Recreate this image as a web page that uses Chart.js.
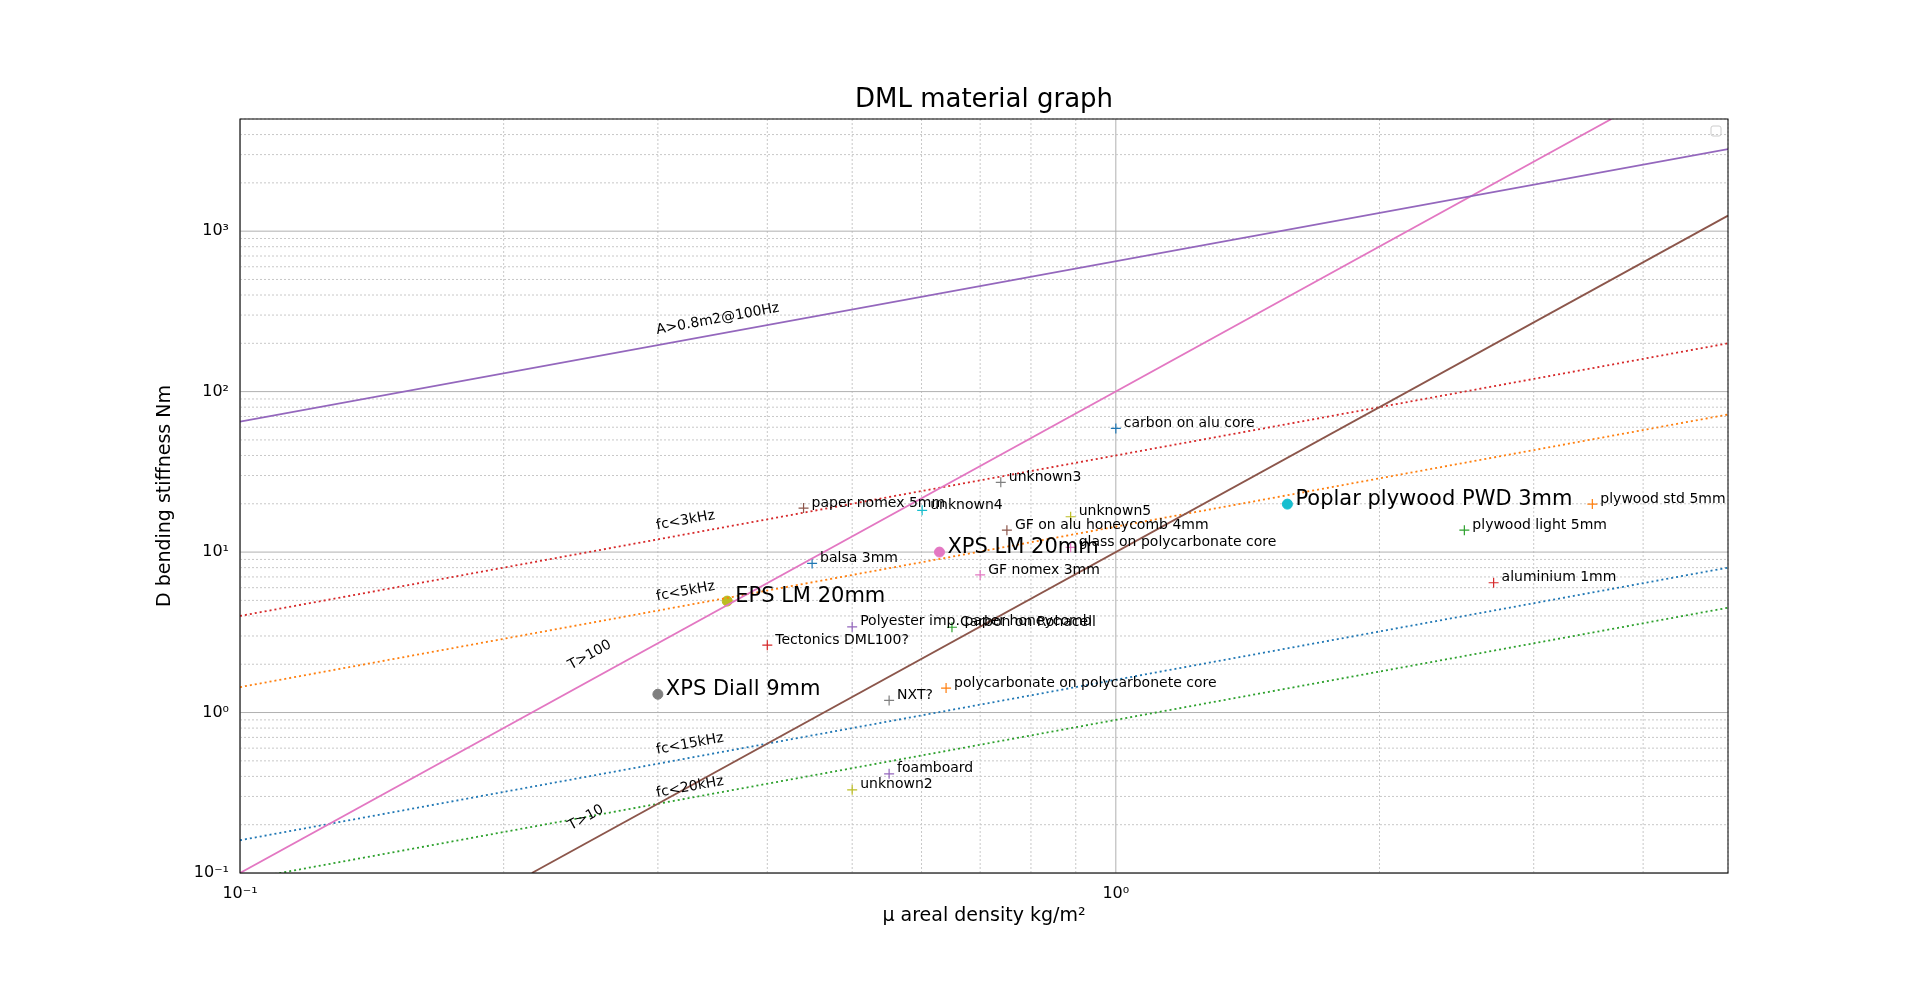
<!DOCTYPE html>
<html>
<head>
<meta charset="utf-8">
<script src="https://cdn.jsdelivr.net/npm/chart.js@4/dist/chart.umd.min.js"></script>
<style>
  html, body { margin: 0; padding: 0; background: #fff; }
  #wrap { width: 1920px; height: 981px; }
</style>
</head>
<body>
<div id="wrap"><canvas id="c"></canvas></div>
<script>
// materials
const names = ["carbon on alu core","unknown3","paper nomex 5mm","unknown4","unknown5","GF on alu honeycomb 4mm",
  "glass on polycarbonate core","Poplar plywood PWD 3mm","plywood std 5mm","plywood light 5mm","aluminium 1mm",
  "XPS LM 20mm","balsa 3mm","GF nomex 3mm","EPS LM 20mm","Polyester imp. paper honeycomb","Carbon on Rohacell",
  "Tectonics DML100?","XPS Diall 9mm","NXT?","polycarbonate on polycarbonete core","foamboard","unknown2"];
const mu = [1.0,0.739,0.44,0.601,0.888,0.751,0.888,1.57,3.5,2.5,2.7,0.629,0.45,0.70,0.36,0.5,0.65,0.40,0.30,0.551,0.64,0.551,0.5];
const stiff = [59,27.2,18.8,18.2,16.6,13.7,10.7,19.9,19.9,13.7,6.44,10,8.5,7.2,4.95,3.42,3.4,2.63,1.30,1.19,1.42,0.415,0.33];
const pointColors = ["#1f77b4","#7f7f7f","#8c564b","#17becf","#bcbd22","#8c564b","#e377c2","#17becf","#ff7f0e","#2ca02c","#d62728",
  "#e377c2","#1f77b4","#e377c2","#bcbd22","#9467bd","#2ca02c","#d62728","#7f7f7f","#7f7f7f","#ff7f0e","#9467bd","#bcbd22"];
const big = [0,0,0,0,0,0,0,1,0,0,0,1,0,0,1,0,0,0,1,0,0,0,0];

// guide lines: two endpoints each (mu, D)
const guideNames = ["A>0.8m2@100Hz","T>100","T>10","fc<3kHz","fc<5kHz","fc<15kHz","fc<20kHz"];
const guideX0 = [0.1,0.1,0.2154,0.1,0.1,0.1,0.1];
const guideY0 = [65,0.1,0.1,4,1.44,0.16,0.09];
const guideX1 = [5,3.68,5,5,5,5,5];
const guideY1 = [3250,5000,1250,200,72,8,4.5];
const guideColors = ["#9467bd","#e377c2","#8c564b","#d62728","#ff7f0e","#1f77b4","#2ca02c"];
const guideDotted = [0,0,0,1,1,1,1];
const guideLabelAt = [[0.3,215],[0.24,1.75],[0.24,0.175],[0.3,13],[0.3,4.7],[0.3,0.52],[0.3,0.28]];

const superscript = {"-":"⁻","0":"⁰","1":"¹","2":"²","3":"³","4":"⁴"};
function decadeLabel(v) {
  const e = Math.log10(v);
  if (Math.abs(e - Math.round(e)) > 1e-6) return "";
  return "10" + String(Math.round(e)).split("").map(ch => superscript[ch]).join("");
}

const datasets = [];
guideNames.forEach((n, i) => {
  datasets.push({
    type: "line", label: n,
    data: [{x: guideX0[i], y: guideY0[i]}, {x: guideX1[i], y: guideY1[i]}],
    borderColor: guideColors[i], borderWidth: 1.8, pointRadius: 0,
    borderDash: guideDotted[i] ? [2, 3] : []
  });
});
names.forEach((n, i) => {
  datasets.push({
    type: "scatter", label: n,
    data: [{x: mu[i], y: stiff[i]}],
    borderColor: pointColors[i], backgroundColor: pointColors[i],
    pointStyle: big[i] ? "circle" : "cross",
    pointRadius: 5, borderWidth: big[i] ? 1 : 1.2
  });
});

const gridPlugin = {
  id: "grid",
  beforeDatasetsDraw(chart) {
    const {ctx, chartArea: a, scales: {x, y}} = chart;
    ctx.save();
    ctx.lineWidth = 1;
    for (let e = -1; e <= 3; e++) {
      for (let m = 1; m <= 9; m++) {
        const v = m * Math.pow(10, e);
        if (v < 0.1 || v > 5000) continue;
        const py = y.getPixelForValue(v);
        ctx.strokeStyle = m === 1 ? "#b0b0b0" : "#c8c8c8";
        ctx.setLineDash(m === 1 ? [] : [2, 2]);
        ctx.beginPath(); ctx.moveTo(a.left, py); ctx.lineTo(a.right, py); ctx.stroke();
        if (v <= 5 && e <= 0) {
          const px = x.getPixelForValue(v);
          ctx.beginPath(); ctx.moveTo(px, a.top); ctx.lineTo(px, a.bottom); ctx.stroke();
        }
      }
    }
    ctx.restore();
  },
  afterDatasetsDraw(chart) {
    const {ctx, chartArea: a, scales: {x, y}} = chart;
    ctx.save();
    ctx.fillStyle = "#000";
    ctx.textBaseline = "middle";
    names.forEach((n, i) => {
      ctx.font = big[i] ? "21px 'DejaVu Sans'" : "14px 'DejaVu Sans'";
      ctx.fillText(n, x.getPixelForValue(mu[i]) + 8, y.getPixelForValue(stiff[i]) - 5);
    });
    ctx.font = "14px 'DejaVu Sans'";
    guideNames.forEach((n, i) => {
      const x0 = x.getPixelForValue(guideX0[i]), y0 = y.getPixelForValue(guideY0[i]);
      const x1 = x.getPixelForValue(guideX1[i]), y1 = y.getPixelForValue(guideY1[i]);
      const ang = Math.atan2(y1 - y0, x1 - x0);
      const [lx, ly] = guideLabelAt[i];
      ctx.save();
      ctx.translate(x.getPixelForValue(lx), y.getPixelForValue(ly));
      ctx.rotate(ang);
      ctx.textBaseline = "bottom";
      ctx.fillText(n, 0, -1);
      ctx.restore();
    });
    // frame + empty legend box
    ctx.strokeStyle = "#000"; ctx.lineWidth = 1;
    ctx.strokeRect(a.left, a.top, a.right - a.left, a.bottom - a.top);
    ctx.strokeStyle = "#ccc";
    ctx.beginPath(); ctx.roundRect(a.right - 17, a.top + 7, 10, 10, 2); ctx.stroke();
    ctx.font = "26px 'DejaVu Sans'";
    ctx.textAlign = "center"; ctx.textBaseline = "bottom";
    ctx.fillText("DML material graph", (a.left + a.right) / 2, a.top - 6);
    ctx.restore();
  }
};

new Chart(document.getElementById("c"), {
  data: { datasets: datasets },
  options: {
    responsive: true, maintainAspectRatio: false, animation: false,
    layout: { padding: { left: 150, right: 192, top: 119, bottom: 50 } },
    plugins: { legend: { display: false }, tooltip: { enabled: false } },
    scales: {
      x: {
        type: "logarithmic", min: 0.1, max: 5,
        grid: { display: false },
        afterBuildTicks(s) { s.ticks = [0.1, 1].map(v => ({value: v})); },
        ticks: { color: "#000", font: { size: 16, family: "DejaVu Sans" }, callback: v => decadeLabel(v), maxRotation: 0 },
        title: { display: true, text: "μ areal density kg/m²", color: "#000", font: { size: 19, family: "DejaVu Sans" } },
        afterFit(s) { s.height = 58; }
      },
      y: {
        type: "logarithmic", min: 0.1, max: 5000,
        grid: { display: false },
        afterBuildTicks(s) { s.ticks = [0.1, 1, 10, 100, 1000].map(v => ({value: v})); },
        ticks: { color: "#000", font: { size: 16, family: "DejaVu Sans" }, callback: v => decadeLabel(v) },
        title: { display: true, text: "D bending stiffness Nm", color: "#000", font: { size: 19, family: "DejaVu Sans" } },
        afterFit(s) { s.width = 90; }
      }
    }
  },
  plugins: [gridPlugin]
});
</script>
</body>
</html>
